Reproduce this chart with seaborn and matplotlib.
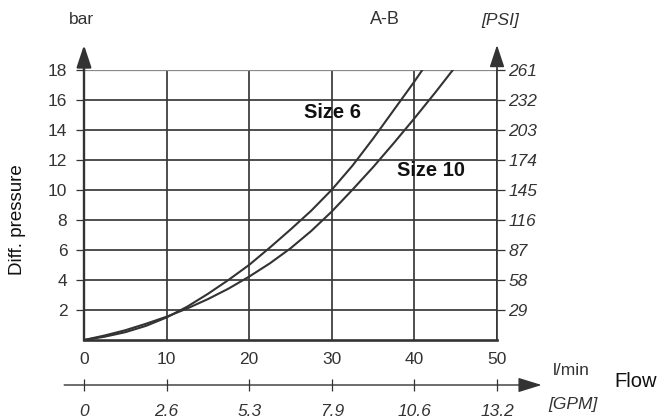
import numpy as np
import pandas as pd
import matplotlib
matplotlib.use("Agg")
import matplotlib.pyplot as plt
from matplotlib.patches import ArrowStyle
import seaborn as sns

# pressure drop curves A-B
size6_flow = [0, 2.5, 5, 7.5, 10, 12.5, 15, 17.5, 20, 22.5, 25, 27.5, 30, 32.5, 35, 37.5, 40, 41]
size6_dp = [0, 0.22, 0.52, 0.94, 1.5, 2.22, 3.07, 4.0, 5.0, 6.15, 7.35, 8.6, 10.0, 11.6, 13.4, 15.3, 17.2, 18.0]

size10_flow = [0, 2.5, 5, 7.5, 10, 12.5, 15, 17.5, 20, 22.5, 25, 27.5, 30, 32.5, 35, 37.5, 40, 42.5, 44.7]
size10_dp = [0, 0.3, 0.65, 1.08, 1.55, 2.1, 2.72, 3.42, 4.22, 5.1, 6.1, 7.25, 8.55, 10.0, 11.5, 13.1, 14.75, 16.45, 18.0]

bar_ticks = [2, 4, 6, 8, 10, 12, 14, 16, 18]
psi_labels = ["29", "58", "87", "116", "145", "174", "203", "232", "261"]
lpm_ticks = [0, 10, 20, 30, 40, 50]
gpm_labels = ["0", "2.6", "5.3", "7.9", "10.6", "13.2"]

df = pd.concat([
    pd.DataFrame({"flow": size6_flow, "dp": size6_dp, "size": "Size 6"}),
    pd.DataFrame({"flow": size10_flow, "dp": size10_dp, "size": "Size 10"}),
])

sns.set_style("white")
plt.rcParams["font.family"] = ["Liberation Sans", "DejaVu Sans"]

W, H = 660, 419
dark = "#333333"

fig = plt.figure(figsize=(W / 100, H / 100), dpi=100)
x0, x1, y0, y1 = 84, 497, 340, 69.5
ax = fig.add_axes([x0 / W, 1 - y0 / H, (x1 - x0) / W, (y0 - y1) / H])

sns.lineplot(data=df, x="flow", y="dp", hue="size", palette=[dark, dark],
             estimator=None, sort=False, legend=False, linewidth=1.5, ax=ax)

ax.set_xlim(0, 50)
ax.set_ylim(0, 18)
ax.set_xlabel("")
ax.set_ylabel("")
ax.set_xticks(lpm_ticks)
ax.set_yticks(bar_ticks)
ax.grid(True, color="#383838", linewidth=1.25)
ax.get_ygridlines()[-1].set_color("#8a8a8a")
ax.get_ygridlines()[-1].set_linewidth(0.9)
ax.set_axisbelow(True)

ax.tick_params(axis="x", length=0, pad=9, labelsize=12.5, labelcolor=dark)
ax.tick_params(axis="y", length=6, width=0.9, color=dark, pad=6, labelsize=12.5,
               labelcolor=dark, direction="out", left=True)

ax.spines["top"].set_visible(False)
ax.spines["left"].set_linewidth(1.7)
ax.spines["left"].set_color(dark)
ax.spines["bottom"].set_linewidth(1.9)
ax.spines["bottom"].set_color(dark)
ax.spines["right"].set_linewidth(1.2)
ax.spines["right"].set_color(dark)

# right hand PSI scale
sec = ax.secondary_yaxis("right")
sec.set_yticks(bar_ticks, labels=psi_labels)
sec.spines["right"].set_visible(False)
sec.tick_params(length=6, width=0.9, color=dark, pad=2, labelsize=12.5, labelcolor=dark)
for t in sec.get_yticklabels():
    t.set_fontstyle("italic")

# axis arrows
ytr = ax.get_xaxis_transform()
tip = (y0 - 45) / (y0 - y1)
head = ArrowStyle("-|>", head_length=1.35, head_width=0.45)
for xv, lw in [(0, 1.7), (50, 1.2)]:
    ax.annotate("", xy=(xv, tip), xytext=(xv, 1.0), xycoords=ytr, textcoords=ytr,
                arrowprops=dict(arrowstyle=head, mutation_scale=10, color=dark,
                                lw=lw, shrinkA=0, shrinkB=0), annotation_clip=False)

# lower GPM scale
gy = (y0 - 385) / (y0 - y1)
ax.annotate("", xy=(55.4, gy), xytext=(-2.4, gy), xycoords=ytr, textcoords=ytr,
            arrowprops=dict(arrowstyle=ArrowStyle("-|>", head_length=1.45, head_width=0.45),
                            mutation_scale=10, color=dark, lw=1.0, shrinkA=0, shrinkB=0),
            annotation_clip=False)
ax.vlines(lpm_ticks, (y0 - 379) / (y0 - y1), (y0 - 391) / (y0 - y1), transform=ytr,
          colors=dark, linewidth=0.9, clip_on=False)
for xv, lab in zip(lpm_ticks, gpm_labels):
    ax.text(xv, (y0 - 412) / (y0 - y1), lab, transform=ytr, ha="center", va="center",
            fontsize=12.5, fontstyle="italic", color=dark)


def px_text(x, y, s, **kw):
    fig.text(x / W, 1 - y / H, s, ha="center", va="center", **kw)


px_text(81, 20, "bar", fontsize=12.5, color=dark)
px_text(385, 20, "A-B", fontsize=13, color=dark)
px_text(500, 20, "[PSI]", fontsize=12.5, fontstyle="italic", color=dark)
px_text(18, 220, "Diff. pressure", fontsize=13.5, rotation=90, color="#111111")
px_text(571, 370, "l/min", fontsize=12.5, color=dark)
px_text(573, 404, "[GPM]", fontsize=12.5, fontstyle="italic", color=dark)
px_text(636, 381, "Flow", fontsize=14.5, color="#111111")
px_text(332, 112, "Size 6", fontsize=14.5, fontweight="bold", color="#111111")
px_text(431, 170, "Size 10", fontsize=14.5, fontweight="bold", color="#111111")

fig.savefig("out.png", dpi=100)
